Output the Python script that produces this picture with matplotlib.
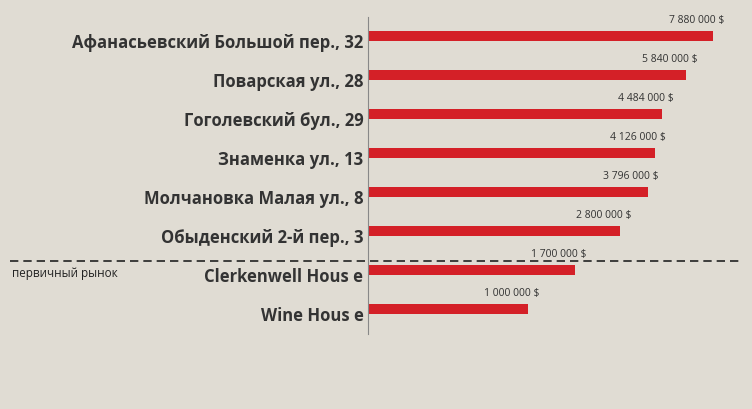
import matplotlib
matplotlib.use("Agg")
from matplotlib import pyplot as plt

streets = ["Афанасьевский Большой пер., 32", "Поварская ул., 28", "Гоголевский бул., 29",
           "Знаменка ул., 13", "Молчановка Малая ул., 8", "Обыденский 2-й пер., 3",
           "Clerkenwell Hous e", "Wine Hous e"]
prices = [7880000, 5840000, 4484000, 4126000, 3796000, 2800000, 1700000, 1000000]
price_labels = ["7 880 000 $", "5 840 000 $", "4 484 000 $", "4 126 000 $",
                "3 796 000 $", "2 800 000 $", "1 700 000 $", "1 000 000 $"]

bg = "#e0dcd3"
plt.rcParams["font.family"] = "Open Sans"
fig = plt.figure(figsize=(7.52, 4.10), dpi=100, facecolor=bg)
ax = fig.add_axes([368 / 752, 1 - 335 / 410, 372 / 752, 317 / 410])
ax.set_facecolor(bg)
ax.set_xscale("log")
left = 168000
ax.set_xlim(left, 10.65e6)
ax.set_ylim(7.64, -0.487)

ys = list(range(len(prices)))
ax.barh(ys, [p - left for p in prices], left=left, height=0.27, color="#d42027")

for y, p, s, lab in zip(ys, prices, streets, price_labels):
    ax.text(p * 0.83, y - 0.43, lab, ha="center", va="center", fontsize=7.5,
            color="#333333")
    ax.text(left * 0.95, y + 0.16, s, ha="right", va="center", fontsize=12,
            fontweight="bold", color="#333333")

for sp in ["top", "right", "bottom"]:
    ax.spines[sp].set_visible(False)
ax.spines["left"].set_color("#888888")
ax.set_xticks([])
ax.set_yticks([])
ax.minorticks_off()

fig.add_artist(plt.Line2D([10 / 752, 740 / 752], [1 - 262 / 410] * 2, color="#222222",
                          linestyle=(0, (5, 3)), linewidth=1.2))
fig.text(12 / 752, 1 - 273 / 410, "первичный рынок", fontsize=8.5, va="center", color="#222222")

fig.savefig("out.png", dpi=100, facecolor=bg)
